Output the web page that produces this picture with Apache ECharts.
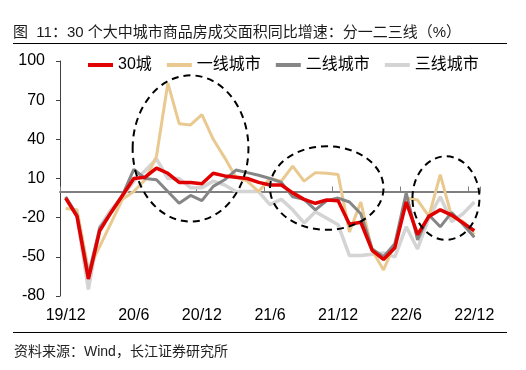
<!DOCTYPE html>
<html>
<head>
<meta charset="utf-8">
<script src="https://cdn.jsdelivr.net/npm/echarts@6/dist/echarts.min.js"></script>
<style>
html,body{margin:0;padding:0;background:#fff;}
#c{width:526px;height:370px;}
</style>
</head>
<body>
<div id="c"></div>
<script>
var months = ['19/12','20/1','20/2','20/3','20/4','20/5','20/6','20/7','20/8','20/9','20/10','20/11',
  '20/12','21/1','21/2','21/3','21/4','21/5','21/6','21/7','21/8','21/9','21/10','21/11',
  '21/12','22/1','22/2','22/3','22/4','22/5','22/6','22/7','22/8','22/9','22/10','22/11','22/12'];
var city30 = [-5,-19,-67,-30,-16,-3,10,11,18,14,7,7,6,14,12,11,10,7,5,5,-1,-6,-9,-6.5,-7,-25,-23.5,-45,-52,-43,-8,-33,-19,-14,-18,-24,-30];
var tier1 = [-13,-14,-60,-42,-24,-6,0,9,27,83,52,51,59,40,26,11,8,0,10,8,19.5,8,14.5,14,13,-31,-8,-45,-60,-40,-5,-6.5,-19,13,-19,-23,-33];
var tier2 = [-4,-18,-64,-28,-16,-3,17,10,9,0,-9,-3,-7,4,9,16.5,14.5,12.5,10,7,-4,-6,-14,-7,-5,-8,-17,-44,-50,-40,-1,-37,-18,-27,-16,-25,-35];
var tier3 = [-5,-19,-75,-27,-14,-4,8,16,25,10,10,3,3,8,5,0,0,0,-10,-6,-14,-24,-15.5,-20.5,-25.5,-49,-49,-48,-47,-50,-27,-44,-20,-4,-23,-17,-8];
var yTicks = [-80,-50,-20,10,40,70,100];
var seriesNames = ['30城','一线城市','二线城市','三线城市'];
// annotation ellipses in data units: [centerIndex, centerValue, radiusIndex, radiusValue]
var ellipses = [[11, 33, 5.1, 56], [23, 2.7, 5.0, 32], [33.5, -5, 2.95, 32]];

var FONT = '"Liberation Sans", Arial, "Noto Sans CJK SC", sans-serif';
var chart = echarts.init(document.getElementById('c'), null, {renderer: 'canvas'});
var option = {
  animation: false,
  backgroundColor: '#fff',
  title: {
    text: '图  11：30 个大中城市商品房成交面积同比增速：分一二三线（%）',
    left: 13, top: 25, padding: 0,
    textStyle: {fontFamily: FONT, fontSize: 15, fontWeight: 'normal', color: '#1a1a1a'}
  },
  legend: {
    data: seriesNames,
    left: 88, top: 57, itemGap: 15, itemWidth: 25, itemHeight: 4, icon: 'rect', padding: 0,
    textStyle: {fontFamily: FONT, fontSize: 16, color: '#000'}
  },
  grid: {left: 60, right: 46, top: 61, bottom: 74, containLabel: false},
  xAxis: [{
    type: 'category', data: months, boundaryGap: true,
    axisLine: {onZero: true, lineStyle: {color: '#7f7f7f', width: 2}},
    axisTick: {show: true, interval: 5, inside: true, length: 5, lineStyle: {color: '#7f7f7f', width: 1}},
    axisLabel: {show: false}, splitLine: {show: false}
  }, {
    type: 'category', data: months, boundaryGap: true, position: 'bottom',
    axisLine: {show: false, onZero: false}, axisTick: {show: false},
    axisLabel: {show: true, interval: 5, margin: 12, fontFamily: FONT, fontSize: 16, color: '#000'},
    splitLine: {show: false}
  }],
  yAxis: {
    type: 'value', min: -80, max: 100,
    axisLine: {show: true, onZero: false, lineStyle: {color: '#404040', width: 1}},
    axisTick: {show: true, length: 4, customValues: yTicks, lineStyle: {color: '#404040'}},
    axisLabel: {customValues: yTicks, margin: 15, fontFamily: FONT, fontSize: 16, color: '#000'},
    splitLine: {show: false}
  },
  series: [
    {name: '三线城市', type: 'line', data: tier3, symbol: 'none', lineStyle: {color: '#d4d4d4', width: 3.5}, itemStyle: {color: '#d4d4d4'}},
    {name: '一线城市', type: 'line', data: tier1, symbol: 'none', lineStyle: {color: '#e9c98f', width: 3}, itemStyle: {color: '#e9c98f'}},
    {name: '二线城市', type: 'line', data: tier2, symbol: 'none', lineStyle: {color: '#868686', width: 3}, itemStyle: {color: '#868686'}},
    {name: '30城', type: 'line', data: city30, symbol: 'none', lineStyle: {color: '#e00000', width: 3.5}, itemStyle: {color: '#e00000'}}
  ]
};
chart.setOption(option);

function px(i, v) { return chart.convertToPixel({xAxisIndex: 0, yAxisIndex: 0}, [i, v]); }
var p0 = px(0, 0), p1 = px(1, 10);
var dxIdx = p1[0] - p0[0], dyVal = (p0[1] - p1[1]) / 10;
var gfx = [];
ellipses.forEach(function (e) {
  var c = px(0, e[1]);
  gfx.push({
    type: 'ellipse', silent: true, z: 100,
    shape: {cx: p0[0] + e[0] * dxIdx, cy: c[1], rx: e[2] * dxIdx, ry: e[3] * dyVal},
    style: {fill: null, stroke: '#000', lineWidth: 2, lineDash: [7, 5]}
  });
});
gfx.push({type: 'line', silent: true, shape: {x1: 13, y1: 43.5, x2: 507, y2: 43.5}, style: {stroke: '#000', lineWidth: 1}});
gfx.push({type: 'line', silent: true, shape: {x1: 13, y1: 332.5, x2: 507, y2: 332.5}, style: {stroke: '#000', lineWidth: 1}});
gfx.push({type: 'text', silent: true, left: 14, top: 345,
  style: {text: '资料来源：Wind，长江证券研究所', font: '14px ' + FONT, fill: '#222'}});
chart.setOption({graphic: gfx});
</script>
</body>
</html>
